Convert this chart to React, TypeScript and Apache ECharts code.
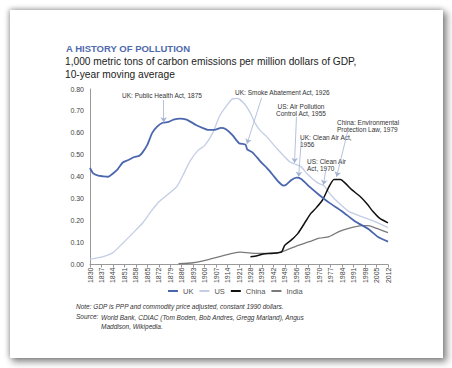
import React, { useEffect, useRef } from "react";
import * as echarts from "echarts";

const FONT = "'Liberation Sans', Arial, sans-serif";

const xTicks = [1830, 1837, 1844, 1851, 1858, 1865, 1872, 1879, 1886, 1893, 1900, 1907, 1914, 1921, 1928, 1935, 1942, 1949, 1956, 1963, 1970, 1977, 1984, 1991, 1998, 2005, 2012];

const ukData: [number, number][] = [
  [1830, 0.44], [1832, 0.415], [1835, 0.405], [1838, 0.402], [1841, 0.4], [1844, 0.415], [1847, 0.435],
  [1850, 0.465], [1853, 0.475], [1857, 0.49], [1860, 0.495], [1862, 0.51], [1865, 0.545], [1868, 0.6],
  [1871, 0.628], [1874, 0.645], [1878, 0.65], [1881, 0.66], [1885, 0.665], [1889, 0.66], [1892, 0.648],
  [1895, 0.635], [1899, 0.622], [1902, 0.614], [1906, 0.614], [1910, 0.623], [1913, 0.617], [1917, 0.59],
  [1921, 0.553], [1925, 0.546], [1926, 0.525], [1929, 0.512], [1932, 0.488], [1935, 0.462], [1938, 0.44],
  [1942, 0.405], [1945, 0.378], [1948, 0.36], [1950, 0.365], [1953, 0.385], [1956, 0.396], [1959, 0.39],
  [1964, 0.355], [1970, 0.317], [1976, 0.282], [1984, 0.242], [1992, 0.196], [2000, 0.162], [2006, 0.125],
  [2012, 0.104],
];

const usData: [number, number][] = [
  [1830, 0.024], [1838, 0.036], [1844, 0.054], [1850, 0.097], [1856, 0.142], [1862, 0.188], [1868, 0.249],
  [1872, 0.285], [1878, 0.322], [1883, 0.355], [1887, 0.41], [1891, 0.47], [1896, 0.52], [1900, 0.542],
  [1905, 0.6], [1909, 0.675], [1913, 0.72], [1917, 0.755], [1920, 0.757], [1924, 0.735], [1928, 0.69],
  [1931, 0.642], [1934, 0.61], [1938, 0.582], [1944, 0.53], [1949, 0.49], [1952, 0.468], [1955, 0.458],
  [1959, 0.445], [1963, 0.41], [1969, 0.372], [1973, 0.358], [1977, 0.318], [1982, 0.28], [1988, 0.242],
  [1996, 0.218], [2004, 0.195], [2012, 0.168],
];

const chinaData: [number, number][] = [
  [1928, 0.035], [1932, 0.04], [1936, 0.048], [1942, 0.051], [1947, 0.058], [1949, 0.088], [1953, 0.112],
  [1957, 0.142], [1961, 0.188], [1965, 0.234], [1968, 0.257], [1972, 0.294], [1976, 0.355], [1979, 0.388],
  [1983, 0.388], [1986, 0.37], [1990, 0.34], [1995, 0.31], [1999, 0.278], [2003, 0.24], [2007, 0.21],
  [2012, 0.19],
];

const indiaData: [number, number][] = [
  [1884, 0.004], [1893, 0.008], [1901, 0.02], [1909, 0.036], [1917, 0.051], [1922, 0.056], [1928, 0.052],
  [1935, 0.051], [1947, 0.058], [1956, 0.084], [1964, 0.104], [1970, 0.12], [1976, 0.127], [1982, 0.15],
  [1988, 0.165], [1996, 0.177], [2000, 0.177], [2005, 0.165], [2012, 0.145],
];

// annotation arrows: [from, to] in data coords
const arrows: [[number, number], [number, number]][] = [
  [[1875, 0.75], [1875, 0.648]],
  [[1934.8, 0.76], [1925.9, 0.55]],
  [[1956.1, 0.673], [1954.9, 0.463]],
  [[1959.2, 0.582], [1957.4, 0.4]],
  [[1973.9, 0.427], [1972.6, 0.363]],
  [[1987.3, 0.605], [1980.6, 0.4]],
];

const notes = [
  "UK: Public Health Act, 1875",
  "UK: Smoke Abatement Act, 1926",
  "US: Air Pollution\nControl Act, 1955",
  "UK: Clean Air Act,\n1956",
  "US: Clean Air\nAct, 1970",
  "China: Environmental\nProtection Law, 1979",
];

export default function App() {
  const ref = useRef<HTMLDivElement>(null);
  useEffect(() => {
    if (!ref.current) return;
    const chart = echarts.init(ref.current, null, { renderer: "svg" });
    const annText = (text: string, x: number, y: number, align: string) => ({
      type: "text",
      x,
      y,
      style: { text, fill: "#333", font: `6.5px ${FONT}`, align, verticalAlign: "top", lineHeight: 7 },
    });
    const lineSeries = (name: string, data: any, color: string, width: number, extra: any = {}) => ({
      name,
      type: "line",
      data,
      showSymbol: false,
      symbol: "none",
      smooth: 0.2,
      lineStyle: { color, width },
      itemStyle: { color },
      z: 3,
      ...extra,
    });
    chart.setOption({
      animation: false,
      textStyle: { fontFamily: FONT },
      grid: { left: 90, right: 64, top: 89, bottom: 103.5 },
      xAxis: {
        type: "value",
        min: 1830,
        max: 2012,
        splitLine: { show: false },
        axisLine: { show: true, lineStyle: { color: "#999", width: 1 } },
        axisTick: { show: true, length: 3, lineStyle: { color: "#999" }, customValues: xTicks },
        axisLabel: {
          customValues: xTicks,
          rotate: 90,
          fontSize: 7,
          color: "#444",
          margin: 3,
          fontFamily: FONT,
          formatter: (v: number) => String(v),
        },
      },
      yAxis: {
        type: "value",
        min: 0,
        max: 0.8,
        interval: 0.1,
        splitLine: { show: false },
        axisLine: { show: true, lineStyle: { color: "#999", width: 1 } },
        axisTick: { show: false },
        axisLabel: { fontSize: 7, color: "#444", margin: 6, fontFamily: FONT, formatter: (v: number) => v.toFixed(2) },
      },
      legend: {
        left: 163,
        top: 282,
        itemWidth: 10,
        itemHeight: 2,
        itemGap: 6,
        icon: "rect",
        textStyle: { fontSize: 7.5, color: "#555", fontFamily: FONT },
        data: ["UK", "US", "China", "India"],
      },
      series: [
        lineSeries("US", usData, "#c3cde6", 1.3),
        lineSeries("India", indiaData, "#7a7a7a", 1.3),
        lineSeries("China", chinaData, "#111111", 1.5),
        lineSeries("UK", ukData, "#4a66ae", 1.8, {
          z: 4,
          markLine: {
            silent: true,
            symbol: ["none", "arrow"],
            symbolSize: 5,
            label: { show: false },
            lineStyle: { color: "#a3b3d3", width: 0.8, type: "solid" },
            emphasis: { disabled: true },
            data: arrows.map(([a, b]) => [{ coord: a }, { coord: b }]),
          },
        }),
      ],
      graphic: [
        {
          type: "text",
          x: 66,
          y: 43,
          style: { text: "A HISTORY OF POLLUTION", fill: "#4f6aad", font: `bold 9.5px ${FONT}` },
        },
        {
          type: "text",
          x: 65,
          y: 55.5,
          style: {
            text: "1,000 metric tons of carbon emissions per million dollars of GDP,\n10-year moving average",
            fill: "#222",
            font: `10.2px ${FONT}`,
            lineHeight: 12.5,
          },
        },
        annText(notes[0], 162, 92, "center"),
        annText(notes[1], 235, 89, "left"),
        annText(notes[2], 301, 103, "center"),
        annText(notes[3], 300, 134, "left"),
        annText(notes[4], 307, 158, "left"),
        annText(notes[5], 337, 119, "left"),
        {
          type: "text",
          x: 76,
          y: 303,
          style: {
            text: "Note: GDP is PPP and commodity price adjusted, constant 1990 dollars.",
            fill: "#333",
            font: `italic 6.5px ${FONT}`,
          },
        },
        {
          type: "text",
          x: 76,
          y: 312.5,
          style: { text: "Source:", fill: "#333", font: `italic 6.5px ${FONT}` },
        },
        {
          type: "text",
          x: 101,
          y: 312.5,
          style: {
            text: "World Bank, CDIAC (Tom Boden, Bob Andres, Gregg Marland), Angus\nMaddison, Wikipedia.",
            fill: "#333",
            font: `italic 6.5px ${FONT}`,
            lineHeight: 9,
          },
        },
      ],
    });
    return () => chart.dispose();
  }, []);
  return (
    <div style={{ position: "fixed", left: 0, top: 0, width: 452, height: 368, background: "#fff" }}>
      <div
        style={{
          position: "absolute",
          left: 10,
          top: 10,
          width: 433,
          height: 348,
          background: "#fff",
          boxShadow: "3px 3px 7px 1px rgba(0,0,0,0.45), -1px -1px 5px rgba(0,0,0,0.25)",
        }}
      />
      <div ref={ref} style={{ position: "absolute", left: 0, top: 0, width: 452, height: 368 }} />
    </div>
  );
}
